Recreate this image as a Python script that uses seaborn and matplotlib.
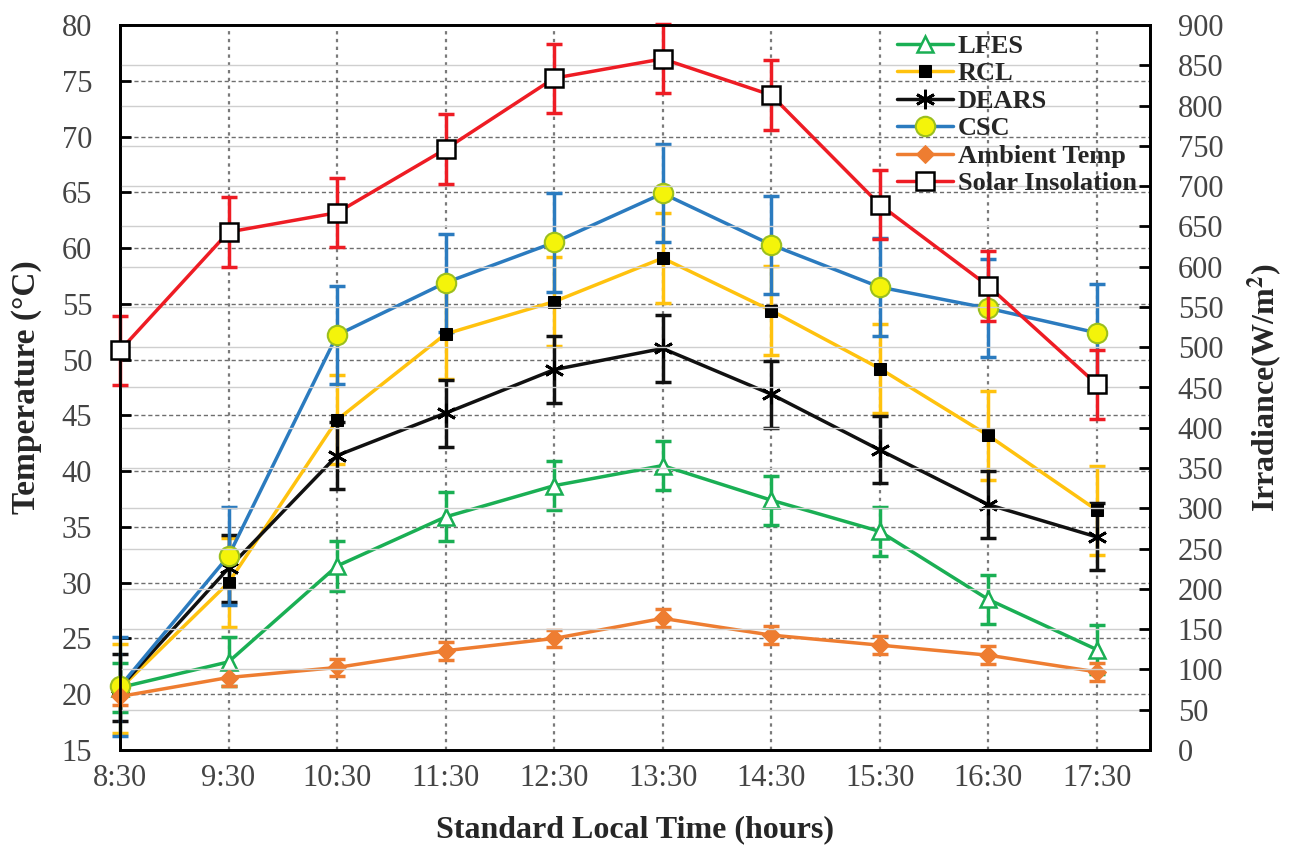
import numpy as np
import pandas as pd
import matplotlib
matplotlib.use("Agg")
import matplotlib.pyplot as plt
import seaborn as sns

times = ["8:30", "9:30", "10:30", "11:30", "12:30", "13:30", "14:30", "15:30", "16:30", "17:30"]
lfes = [20.6, 22.9, 31.5, 35.9, 38.7, 40.5, 37.4, 34.6, 28.5, 24.0]
lfes_err = [2.2, 2.2, 2.2, 2.2, 2.2, 2.2, 2.2, 2.2, 2.2, 2.2]
rcl = [20.5, 30.0, 44.6, 52.3, 55.2, 59.1, 54.4, 49.2, 43.2, 36.5]
rcl_err = [4.0, 4.0, 4.0, 4.0, 4.0, 4.0, 4.0, 4.0, 4.0, 4.0]
dears = [20.6, 31.3, 41.4, 45.2, 49.1, 51.0, 46.9, 41.9, 37.0, 34.1]
dears_err = [3.0, 3.0, 3.0, 3.0, 3.0, 3.0, 3.0, 3.0, 3.0, 3.0]
csc = [20.7, 32.4, 52.2, 56.9, 60.5, 64.9, 60.3, 56.5, 54.6, 52.4]
csc_err = [4.4, 4.4, 4.4, 4.4, 4.4, 4.4, 4.4, 4.4, 4.4, 4.4]
ambient = [19.8, 21.5, 22.4, 23.9, 25.0, 26.8, 25.3, 24.4, 23.5, 22.0]
ambient_err = [0.8, 0.8, 0.8, 0.8, 0.8, 0.8, 0.8, 0.8, 0.8, 0.8]
solar = [496, 643, 667, 746, 834, 858, 813, 677, 576, 454]
solar_err = [43, 43, 43, 43, 43, 43, 43, 43, 43, 43]

sns.set_style("white")
plt.rcParams['font.family'] = ['Liberation Serif', 'DejaVu Serif']
plt.rcParams['mathtext.fontset'] = 'stix'

fig = plt.figure(figsize=(12.9, 8.47), dpi=100)
ax = fig.add_axes([120/1290, 1 - 750/847, (1150-120)/1290, (750-25)/847])
ax2 = ax.twinx()

xpos = np.arange(len(times))

def draw(axis, vals, errs, color, label, **mk):
    eb = axis.errorbar(xpos, vals, yerr=errs, fmt='none', ecolor=color, elinewidth=2.5,
                       capsize=6, capthick=2.5, zorder=2)
    for art in eb.lines[1] + eb.lines[2]:
        art.set_clip_on(False)
    sns.lineplot(x=xpos, y=vals, ax=axis, color=color, linewidth=2.5, label=label,
                 zorder=3, clip_on=False, **mk)

draw(ax, lfes, lfes_err, '#1aaf54', 'LFES', marker='^', markersize=12,
     markerfacecolor='white', markeredgecolor='#1aaf54', markeredgewidth=1.8)
draw(ax, rcl, rcl_err, '#ffc20e', 'RCL', marker='s', markersize=9,
     markerfacecolor='black', markeredgecolor='black')
draw(ax, dears, dears_err, '#111111', 'DEARS', marker=(6, 2, 0), markersize=14,
     markeredgewidth=2, markerfacecolor='black', markeredgecolor='black')
draw(ax, csc, csc_err, '#2b7bbf', 'CSC', marker='o', markersize=14,
     markerfacecolor='#f4f40a', markeredgecolor='#9bbf1e', markeredgewidth=1.5)
draw(ax, ambient, ambient_err, '#ee7d31', 'Ambient Temp', marker='D', markersize=9,
     markerfacecolor='#ee7d31', markeredgecolor='#ee7d31')
draw(ax2, solar, solar_err, '#ee1c24', 'Solar Insolation', marker='s', markersize=13,
     markerfacecolor='white', markeredgecolor='black', markeredgewidth=1.8)

ax.set_xlim(0, 9.49)
ax.set_ylim(15, 80)
ax2.set_ylim(0, 900)
ax.set_xticks(xpos)
ax.set_xticklabels(times)
ax.set_yticks(np.arange(15, 81, 5))
ax2.set_yticks(np.arange(0, 901, 50))

ax.grid(False)
ax2.grid(False)
for y in np.arange(15, 81, 5):
    ax.axhline(y, color='#6e6e6e', linestyle=(0, (3, 2)), linewidth=1.0, zorder=0.5)
for x in xpos:
    ax.axvline(x, color='#7a7a7a', linestyle=(0, (1.5, 2)), linewidth=1.6, zorder=0.5)
ax2.yaxis.grid(True, color='#cfcfcf', linewidth=1.0, zorder=0)
ax2.set_axisbelow(True)

tick_color = '#444444'
ax.tick_params(axis='both', direction='in', length=8, width=2, labelsize=22,
               labelcolor=tick_color, color='black')
ax.tick_params(axis='y', pad=20)
ax.tick_params(axis='x', pad=10)
ax2.tick_params(axis='y', direction='in', length=8, width=2, labelsize=22,
                labelcolor=tick_color, color='black', pad=20)
for a in (ax, ax2):
    for s in a.spines.values():
        s.set_linewidth(2)
        s.set_color('black')

ax.set_xlabel('Standard Local Time (hours)', fontsize=23, fontweight='bold', labelpad=16)
ax.set_ylabel('Temperature (°C)', fontsize=24, fontweight='bold', labelpad=14)
ax2.set_ylabel(r'Irradiance(W/m$^{\mathbf{2}}$)', fontsize=23, fontweight='bold', labelpad=16)

h1, l1 = ax.get_legend_handles_labels()
h2, l2 = ax2.get_legend_handles_labels()
if ax.get_legend():
    ax.get_legend().remove()
if ax2.get_legend():
    ax2.get_legend().remove()
leg = ax2.legend(h1 + h2, l1 + l2, loc='upper right', bbox_to_anchor=(1.0, 1.005),
                 frameon=False, prop={'family': 'Liberation Serif', 'weight': 'bold', 'size': 19},
                 handlelength=2.1, handletextpad=0.2, labelspacing=0.15, borderaxespad=0.1)

fig.savefig('out.png', dpi=100)
